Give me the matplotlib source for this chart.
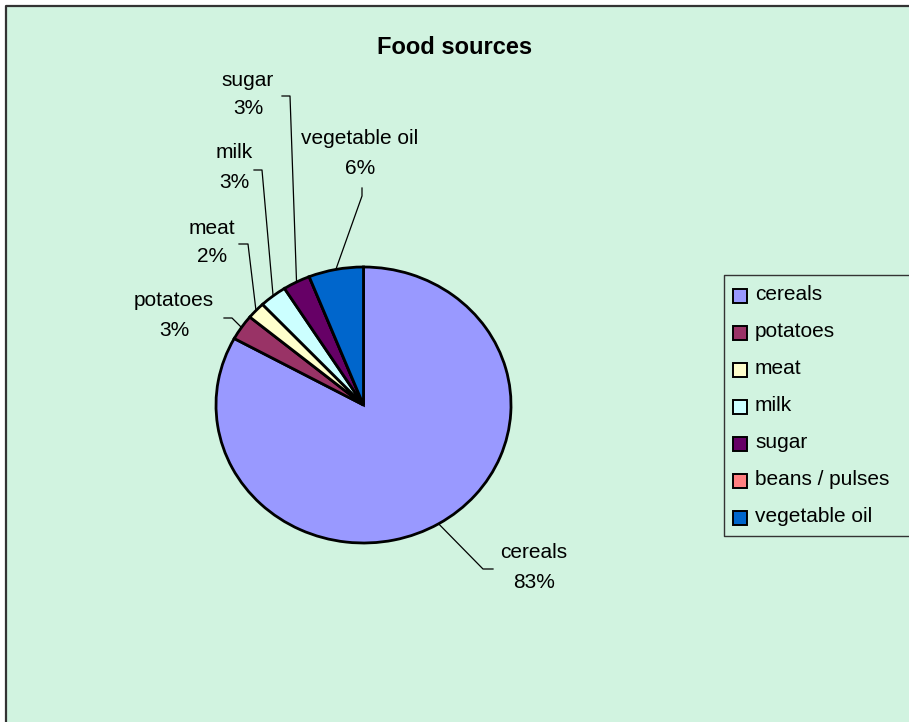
import numpy as np
import matplotlib
matplotlib.use("Agg")
import matplotlib.pyplot as plt
from matplotlib.patches import Rectangle

plt.rcParams['font.family'] = ['Liberation Sans', 'DejaVu Sans']

# dados
categorias = ["cereals", "potatoes", "meat", "milk", "sugar", "beans / pulses", "vegetable oil"]
valores = [83, 3, 2, 3, 3, 0, 6]
rotulos_pct = ["83%", "3%", "2%", "3%", "3%", "", "6%"]
cores = ["#9999FF", "#993366", "#FFFFCC", "#CCFFFF", "#660066", "#FF8080", "#0066CC"]

# layout em pixels (x, y a partir do topo)
W, H = 909, 722
cx, cy, rx, ry = 363.5, 405.0, 147.5, 138.0
fundo = "#D1F3E0"

# posicao (x, y do nome, y do %) de cada rotulo e inicio / cotovelo da linha guia
pos_rotulos = {
    "cereals": ((534, 552, 582), (493, 569), (483, 569)),
    "potatoes": ((174, 300, 330), (224, 318), (232, 318)),
    "meat": ((212, 228, 257), (239, 244), (248, 244)),
    "milk": ((234, 153, 183), (254, 170), (262, 170)),
    "sugar": ((248, 80, 109), (282, 96), (290, 96)),
    "vegetable oil": ((360, 139, 168), (362, 188), (362, 196)),
}


def px(x, y):
    """converte pixel da imagem para coordenadas de dados"""
    return ((x - cx) / rx, (cy - y) / ry)


fig = plt.figure(figsize=(W / 100, H / 100), dpi=100, facecolor="white")
ax = fig.add_axes([0, 0, 1, 1])
ax.set_facecolor("none")

wedges, _ = ax.pie(valores, colors=cores, startangle=90, counterclock=False,
                   radius=1, center=(0, 0),
                   wedgeprops=dict(edgecolor="black", linewidth=2.0))
ax.set_aspect("auto")
ax.set_xlim((0 - cx) / rx, (W - cx) / rx)
ax.set_ylim((cy - H) / ry, cy / ry)
ax.axis("off")

# fundo do grafico, borda so em cima e a esquerda (o resto fica fora da imagem)
x0, y0 = px(6, 6)
x1, y1 = px(W + 60, H + 60)
ax.add_patch(Rectangle((x0, y1), x1 - x0, y0 - y1, facecolor=fundo,
                       edgecolor="none", zorder=-10, clip_on=False))
ax.plot([x0, x0, x1], [y1, y0, y0], color="#333333", linewidth=1.6,
        zorder=-9, clip_on=False)

# rotulos com linhas guia
for w, nome, pct in zip(wedges, categorias, rotulos_pct):
    if nome not in pos_rotulos:
        continue
    (tx, ty_nome, ty_pct), (sx, sy), (ex, ey) = pos_rotulos[nome]
    ang = np.deg2rad((w.theta1 + w.theta2) / 2)
    ancora = (np.cos(ang), np.sin(ang))
    p0 = px(sx, sy)
    p1 = px(ex, ey)
    ax.plot([p0[0], p1[0], ancora[0]], [p0[1], p1[1], ancora[1]],
            color="black", linewidth=0.9, clip_on=False)
    ax.text(*px(tx, ty_nome), nome, ha="center", va="center", fontsize=15)
    ax.text(*px(tx, ty_pct), pct, ha="center", va="center", fontsize=15)

# titulo
tx, ty = px(455, 48)
ax.text(tx, ty, "Food sources", ha="center", va="center",
        fontsize=17, fontweight="bold")

# legenda (lado direito fica fora da imagem)
lx0, ly0 = px(724, 275)
lx1, ly1 = px(W + 60, 536)
ax.plot([lx1, lx0, lx0, lx1], [ly0, ly0, ly1, ly1], color="#333333",
        linewidth=1.0, clip_on=False)
for i, (nome, cor) in enumerate(zip(categorias, cores)):
    base = 300 + 37 * i
    qx, qy = px(733, base + 3)
    ax.add_patch(Rectangle((qx, qy), 14 / rx, 14 / ry, facecolor=cor,
                           edgecolor="black", linewidth=1.4, clip_on=False))
    ttx, tty = px(755, base)
    ax.text(ttx, tty, nome, ha="left", va="baseline", fontsize=15)

fig.savefig("out.png", dpi=100, facecolor="white")
plt.close(fig)
